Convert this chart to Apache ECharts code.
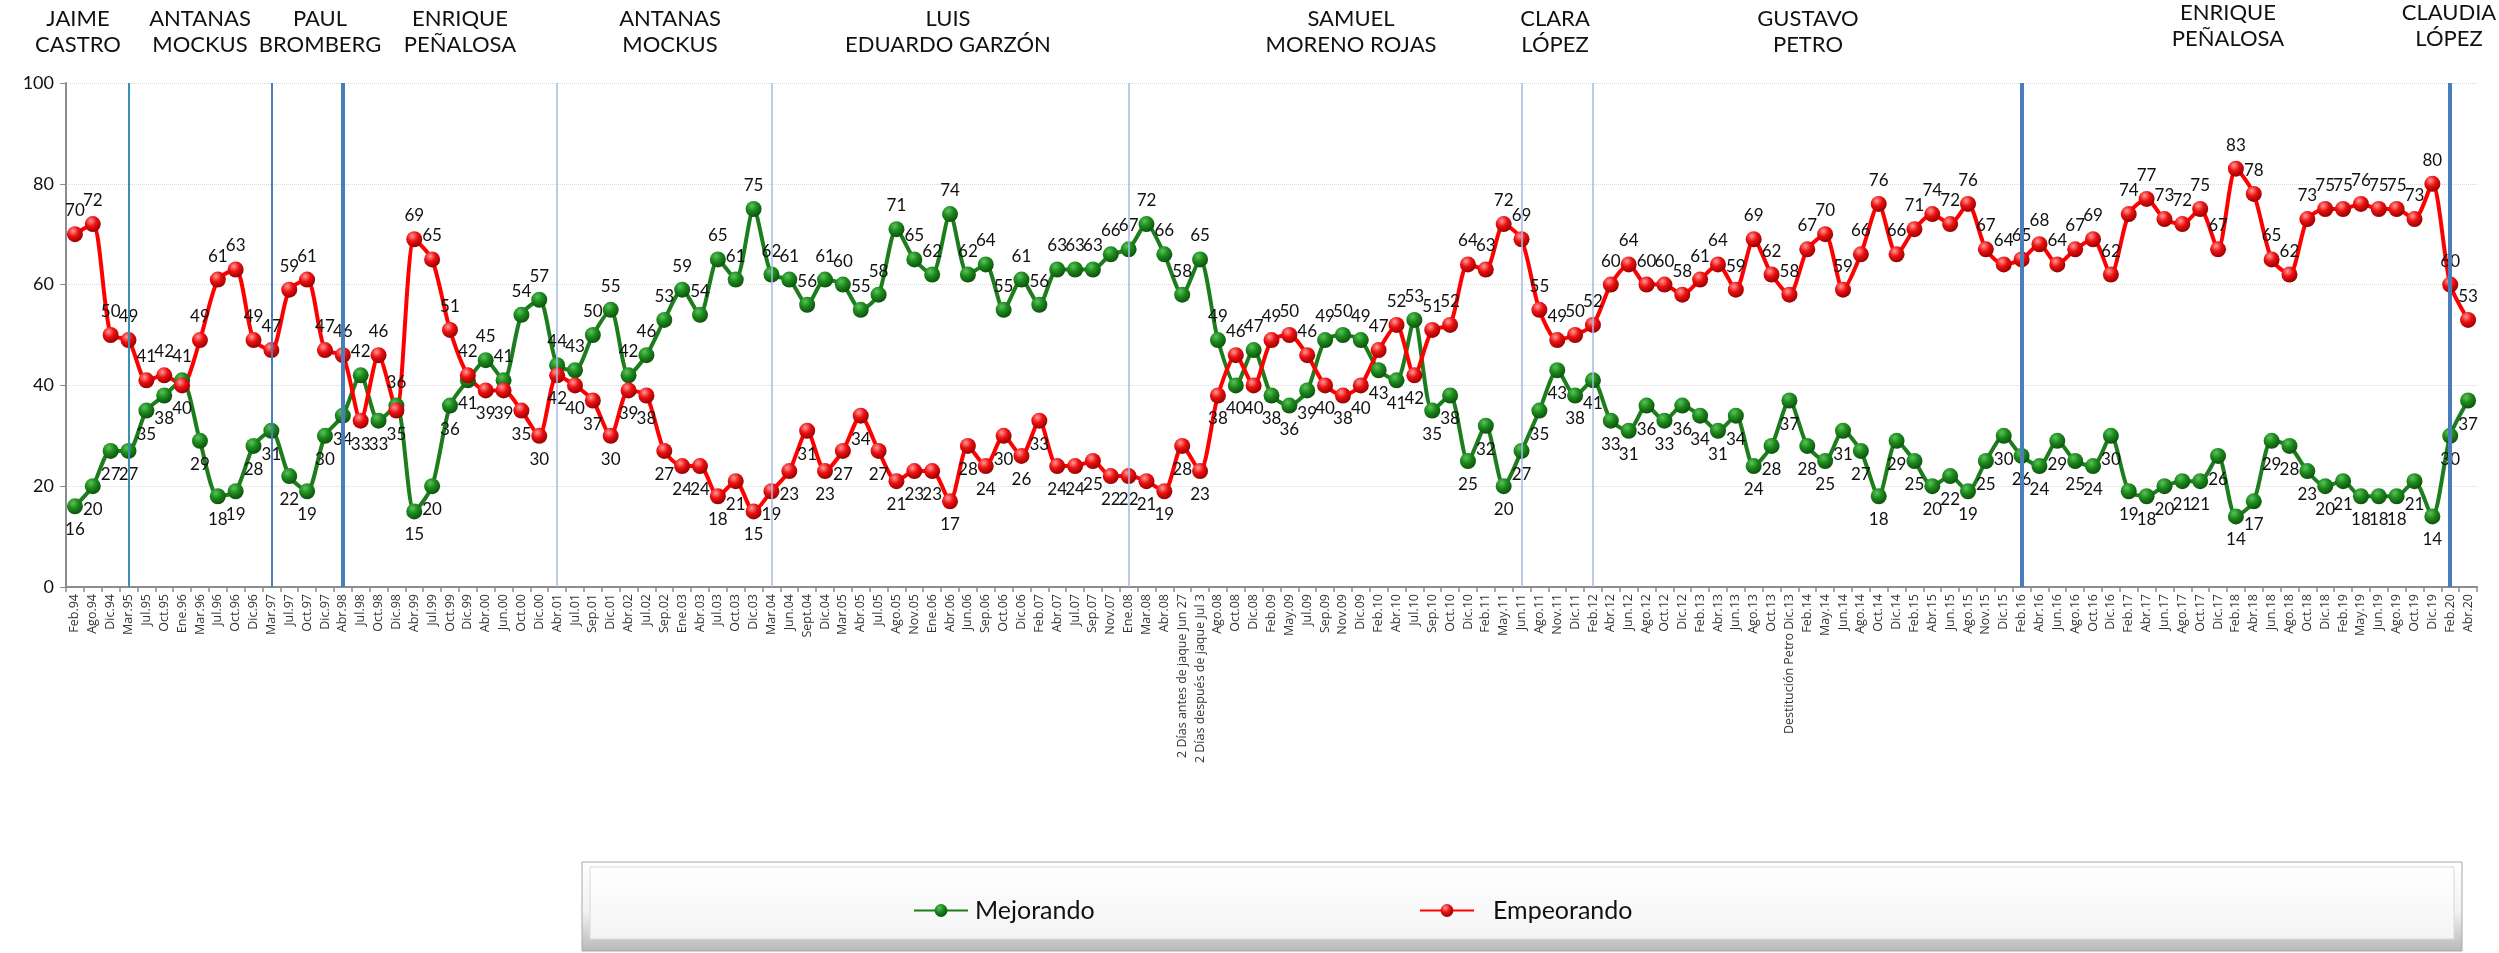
<!DOCTYPE html>
<html>
<head>
<meta charset="utf-8">
<title>Bogotá: ¿las cosas van mejorando o empeorando?</title>
<script src="https://cdn.jsdelivr.net/npm/echarts@6/dist/echarts.min.js"></script>
<style>
    html, body { margin: 0; padding: 0; background: #fff; }
    #main { width: 2499px; height: 953px; }
</style>
</head>
<body>
<div id="main"></div>
<script>
// fechas de medición
var categories = [
    'Feb.94', 'Ago.94', 'Dic.94', 'Mar.95', 'Jul.95', 'Oct.95', 'Ene.96', 'Mar.96', 'Jul.96', 'Oct.96',
    'Dic.96', 'Mar.97', 'Jul.97', 'Oct.97', 'Dic.97', 'Abr.98', 'Jul.98', 'Oct.98', 'Dic.98', 'Abr.99',
    'Jul.99', 'Oct.99', 'Dic.99', 'Abr.00', 'Jun.00', 'Oct.00', 'Dic.00', 'Abr.01', 'Jul.01', 'Sep.01',
    'Dic.01', 'Abr.02', 'Jul.02', 'Sep.02', 'Ene.03', 'Abr.03', 'Jul.03', 'Oct.03', 'Dic.03', 'Mar.04',
    'Jun.04', 'Sept.04', 'Dic.04', 'Mar.05', 'Abr.05', 'Jul.05', 'Ago.05', 'Nov.05', 'Ene.06', 'Abr.06',
    'Jun.06', 'Sep.06', 'Oct.06', 'Dic.06', 'Feb.07', 'Abr.07', 'Jul.07', 'Sep.07', 'Nov.07', 'Ene.08',
    'Mar.08', 'Abr.08', '2 Días antes de jaque Jun 27', '2 Días después de jaque Jul 3', 'Ago.08', 'Oct.08', 'Dic.08', 'Feb.09', 'May.09', 'Jul.09',
    'Sep.09', 'Nov.09', 'Dic.09', 'Feb.10', 'Abr.10', 'Jul.10', 'Sep.10', 'Oct.10', 'Dic.10', 'Feb.11',
    'May.11', 'Jun.11', 'Ago.11', 'Nov.11', 'Dic.11', 'Feb.12', 'Abr.12', 'Jun.12', 'Ago.12', 'Oct.12',
    'Dic.12', 'Feb.13', 'Abr.13', 'Jun.13', 'Ago.13', 'Oct.13', 'Destitución Petro Dic.13', 'Feb.14', 'May.14', 'Jun.14',
    'Ago.14', 'Oct.14', 'Dic.14', 'Feb.15', 'Abr.15', 'Jun.15', 'Ago.15', 'Nov.15', 'Dic.15', 'Feb.16',
    'Abr.16', 'Jun.16', 'Ago.16', 'Oct.16', 'Dic.16', 'Feb.17', 'Abr.17', 'Jun.17', 'Ago.17', 'Oct.17',
    'Dic.17', 'Feb.18', 'Abr.18', 'Jun.18', 'Ago.18', 'Oct.18', 'Dic.18', 'Feb.19', 'May.19', 'Jun.19',
    'Ago.19', 'Oct.19', 'Dic.19', 'Feb.20', 'Abr.20'
];

var mejorando = [
    16, 20, 27, 27, 35, 38, 41, 29, 18, 19,
    28, 31, 22, 19, 30, 34, 42, 33, 36, 15,
    20, 36, 41, 45, 41, 54, 57, 44, 43, 50,
    55, 42, 46, 53, 59, 54, 65, 61, 75, 62,
    61, 56, 61, 60, 55, 58, 71, 65, 62, 74,
    62, 64, 55, 61, 56, 63, 63, 63, 66, 67,
    72, 66, 58, 65, 49, 40, 47, 38, 36, 39,
    49, 50, 49, 43, 41, 53, 35, 38, 25, 32,
    20, 27, 35, 43, 38, 41, 33, 31, 36, 33,
    36, 34, 31, 34, 24, 28, 37, 28, 25, 31,
    27, 18, 29, 25, 20, 22, 19, 25, 30, 26,
    24, 29, 25, 24, 30, 19, 18, 20, 21, 21,
    26, 14, 17, 29, 28, 23, 20, 21, 18, 18,
    18, 21, 14, 30, 37
];

var empeorando = [
    70, 72, 50, 49, 41, 42, 40, 49, 61, 63,
    49, 47, 59, 61, 47, 46, 33, 46, 35, 69,
    65, 51, 42, 39, 39, 35, 30, 42, 40, 37,
    30, 39, 38, 27, 24, 24, 18, 21, 15, 19,
    23, 31, 23, 27, 34, 27, 21, 23, 23, 17,
    28, 24, 30, 26, 33, 24, 24, 25, 22, 22,
    21, 19, 28, 23, 38, 46, 40, 49, 50, 46,
    40, 38, 40, 47, 52, 42, 51, 52, 64, 63,
    72, 69, 55, 49, 50, 52, 60, 64, 60, 60,
    58, 61, 64, 59, 69, 62, 58, 67, 70, 59,
    66, 76, 66, 71, 74, 72, 76, 67, 64, 65,
    68, 64, 67, 69, 62, 74, 77, 73, 72, 75,
    67, 83, 78, 65, 62, 73, 75, 75, 76, 75,
    75, 73, 80, 60, 53
];

var yTicks = [0, 20, 40, 60, 80, 100];

// alcaldes y fecha en que empieza cada cambio de mandato
var alcaldes = [
    'JAIME\nCASTRO', 'ANTANAS\nMOCKUS', 'PAUL\nBROMBERG', 'ENRIQUE\nPEÑALOSA', 'ANTANAS\nMOCKUS',
    'LUIS\nEDUARDO GARZÓN', 'SAMUEL\nMORENO ROJAS', 'CLARA\nLÓPEZ', 'GUSTAVO\nPETRO',
    'ENRIQUE\nPEÑALOSA', 'CLAUDIA\nLÓPEZ'
];
var cambiosMandato = ['Mar.95', 'Mar.97', 'Abr.98', 'Abr.01', 'Mar.04', 'Ene.08', 'Jun.11', 'Feb.12', 'Feb.16', 'Feb.20'];

// layout: centro de cada nombre y estilo de cada linea vertical
var alcaldesX = [78, 200, 320, 460, 670, 948, 1351, 1555, 1808, 2228, 2449];
var alcaldesY = [6, 6, 6, 6, 6, 6, 6, 6, 6, 0, 0];
var cambiosEstilo = [
    {color: '#3b8fb3', width: 2},
    {color: '#4a7ebb', width: 2},
    {color: '#4a7ebb', width: 4},
    {color: '#a6bbe0', width: 1.5},
    {color: '#a6bbe0', width: 1.5},
    {color: '#a6bbe0', width: 1.5},
    {color: '#a6bbe0', width: 1.5},
    {color: '#a6bbe0', width: 1.5},
    {color: '#4a7ebb', width: 4},
    {color: '#4a7ebb', width: 4}
];

var FONT = 'Lato';
var chart = echarts.init(document.getElementById('main'));

// etiqueta arriba si la serie va por encima de la otra, si no abajo
function conEtiquetas(vals, otra) {
    return vals.map(function (v, i) {
        return {
            value: v,
            label: {position: v >= otra[i] ? 'top' : 'bottom'}
        };
    });
}

function bola(claro, medio, oscuro) {
    return new echarts.graphic.RadialGradient(0.38, 0.3, 0.75, [
        {offset: 0, color: claro},
        {offset: 0.45, color: medio},
        {offset: 1, color: oscuro}
    ]);
}

var marcas = cambiosMandato.map(function (c, i) {
    return {
        xAxis: c,
        lineStyle: {color: cambiosEstilo[i].color, width: cambiosEstilo[i].width, type: 'solid'}
    };
});

var textos = alcaldes.map(function (a, i) {
    return {
        type: 'group',
        x: alcaldesX[i],
        y: alcaldesY[i],
        children: [{
            type: 'text',
            style: {
                text: a,
                x: 0,
                y: 0,
                align: 'center',
                verticalAlign: 'top',
                font: '22px ' + FONT,
                lineHeight: 26,
                fill: '#111'
            }
        }]
    };
});

var cajaLeyenda = [
    {
        type: 'rect',
        shape: {x: 582, y: 862, width: 1880, height: 89},
        style: {
            fill: new echarts.graphic.LinearGradient(0, 0, 0, 1, [
                {offset: 0, color: '#ffffff'},
                {offset: 0.55, color: '#f2f2f2'},
                {offset: 1, color: '#b8b8b8'}
            ]),
            stroke: '#a8a8a8',
            lineWidth: 1
        },
        z: 0
    },
    {
        type: 'rect',
        shape: {x: 590, y: 867, width: 1864, height: 72},
        style: {
            fill: new echarts.graphic.LinearGradient(0, 0, 0, 1, [
                {offset: 0, color: '#ffffff'},
                {offset: 1, color: '#f4f4f4'}
            ]),
            stroke: '#d8d8d8',
            lineWidth: 1
        },
        z: 0
    }
];

chart.setOption({
    animation: false,
    backgroundColor: '#ffffff',
    textStyle: {fontFamily: FONT},
    graphic: cajaLeyenda.concat(textos),
    legend: [
        {
            data: ['Mejorando'],
            left: 908,
            top: 893,
            itemWidth: 54,
            itemHeight: 16,
            itemGap: 6,
            textStyle: {fontSize: 25, color: '#111', fontFamily: FONT, padding: [0, 0, 0, 2]},
            z: 5
        },
        {
            data: ['Empeorando'],
            left: 1414,
            top: 893,
            itemWidth: 54,
            itemHeight: 16,
            itemGap: 6,
            textStyle: {fontSize: 25, color: '#111', fontFamily: FONT, padding: [0, 0, 0, 14]},
            z: 5
        }
    ],
    grid: {left: 66, right: 22, top: 83, bottom: 366, containLabel: false},
    xAxis: {
        type: 'category',
        data: categories,
        boundaryGap: true,
        axisLine: {lineStyle: {color: '#8c8c8c', width: 2}},
        axisTick: {show: true, length: 5, lineStyle: {color: '#8c8c8c', width: 1.5}},
        axisLabel: {
            interval: 0,
            rotate: 90,
            fontSize: 12.5,
            color: '#333',
            fontFamily: 'Open Sans',
            margin: 7
        },
        splitLine: {show: false}
    },
    yAxis: {
        type: 'value',
        min: yTicks[0],
        max: yTicks[yTicks.length - 1],
        interval: yTicks[1] - yTicks[0],
        axisLine: {show: true, lineStyle: {color: '#8c8c8c', width: 2}},
        axisTick: {show: true, length: 6, lineStyle: {color: '#8c8c8c'}},
        axisLabel: {fontSize: 18, color: '#111', fontFamily: FONT, margin: 12},
        splitLine: {lineStyle: {color: '#d9d9d9', type: 'dotted', width: 1}}
    },
    series: [
        {
            name: 'lineas',
            type: 'line',
            data: [],
            z: 1,
            silent: true,
            markLine: {
                silent: true,
                symbol: 'none',
                label: {show: false},
                data: marcas
            }
        },
        {
            name: 'Mejorando',
            type: 'line',
            data: conEtiquetas(mejorando, empeorando),
            smooth: 0.25,
            z: 3,
            symbol: 'circle',
            symbolSize: 16,
            lineStyle: {color: '#1d7d1d', width: 4},
            itemStyle: {color: bola('#5cc25c', '#1c8a1c', '#0b4a0b'), borderWidth: 0},
            label: {show: true, fontSize: 17, color: '#111', fontFamily: FONT, distance: 7}
        },
        {
            name: 'Empeorando',
            type: 'line',
            data: conEtiquetas(empeorando, mejorando),
            smooth: 0.25,
            z: 3,
            symbol: 'circle',
            symbolSize: 16,
            lineStyle: {color: '#ff0000', width: 4},
            itemStyle: {color: bola('#ff9a9a', '#ee1010', '#8a0000'), borderWidth: 0},
            label: {show: true, fontSize: 17, color: '#111', fontFamily: FONT, distance: 7}
        }
    ]
});
</script>
</body>
</html>
